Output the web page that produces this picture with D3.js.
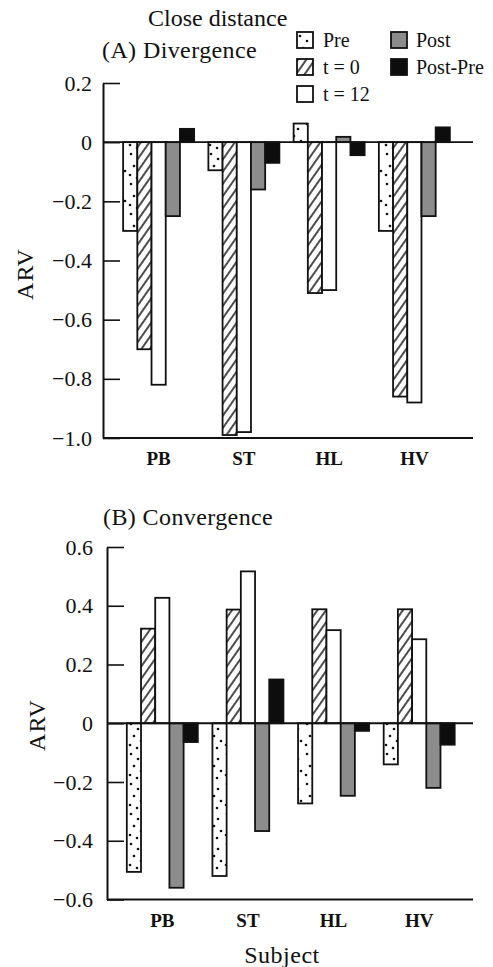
<!DOCTYPE html>
<html>
<head>
<meta charset="utf-8">
<script src="https://cdn.jsdelivr.net/npm/d3@7"></script>
<style>
  html, body { margin: 0; padding: 0; background: #fff; }
  svg { display: block; }
  text { font-family: "Liberation Serif", "Times New Roman", serif; fill: #111; }
</style>
</head>
<body>
<svg id="chart" width="493" height="967"></svg>
<script>
// Subjects and measurement series
const subjects = ["PB", "ST", "HL", "HV"];
const series = ["Pre", "t = 0", "t = 12", "Post", "Post-Pre"];

// (A) Divergence ARV values, one per subject
const divPre     = [-0.30, -0.095, 0.063, -0.30];
const divT0      = [-0.70, -0.99, -0.51, -0.86];
const divT12     = [-0.82, -0.98, -0.50, -0.88];
const divPost    = [-0.25, -0.16, 0.018, -0.25];
const divPostPre = [0.045, -0.07, -0.044, 0.05];

// (B) Convergence ARV values, one per subject
const conPre     = [-0.506, -0.52, -0.273, -0.14];
const conT0      = [0.322, 0.387, 0.388, 0.388];
const conT12     = [0.427, 0.517, 0.317, 0.286];
const conPost    = [-0.56, -0.367, -0.247, -0.22];
const conPostPre = [-0.064, 0.149, -0.026, -0.073];

// Axis ticks
const ticksA = [0.2, 0, -0.2, -0.4, -0.6, -0.8, -1.0];
const tickLabelsA = ["0.2", "0", "\u22120.2", "\u22120.4", "\u22120.6", "\u22120.8", "\u22121.0"];
const ticksB = [0.6, 0.4, 0.2, 0, -0.2, -0.4, -0.6];
const tickLabelsB = ["0.6", "0.4", "0.2", "0", "\u22120.2", "\u22120.4", "\u22120.6"];

const svg = d3.select("#chart");
const defs = svg.append("defs");

// Sparse dot texture for "Pre"
const dots = defs.append("pattern").attr("id", "pat-dots")
  .attr("patternUnits", "userSpaceOnUse").attr("width", 16).attr("height", 30);
dots.append("rect").attr("width", 16).attr("height", 30).attr("fill", "#fff");
[[3, 4], [10, 9], [6, 16], [13, 21], [2, 25], [9, 28]].forEach(([cx, cy]) =>
  dots.append("circle").attr("cx", cx).attr("cy", cy).attr("r", 1.3).attr("fill", "#111"));

// Diagonal hatch for "t = 0"
const hatch = defs.append("pattern").attr("id", "pat-hatch")
  .attr("patternUnits", "userSpaceOnUse").attr("width", 7).attr("height", 7)
  .attr("patternTransform", "rotate(35)");
hatch.append("rect").attr("width", 7).attr("height", 7).attr("fill", "#fff");
hatch.append("line").attr("x1", 1).attr("y1", 0).attr("x2", 1).attr("y2", 7)
  .attr("stroke", "#111").attr("stroke-width", 1.5);

const fills = {
  "Pre": "url(#pat-dots)",
  "t = 0": "url(#pat-hatch)",
  "t = 12": "#fff",
  "Post": "#8c8c8c",
  "Post-Pre": "#0d0d0d"
};

function drawPanel(cfg) {
  const g = svg.append("g");
  const y = d3.scaleLinear().domain(cfg.domain).range([cfg.yBottom, cfg.yTop]);
  const x0 = d3.scaleBand().domain(subjects).range(cfg.xRange).padding(0);
  const groupW = 71;
  const x1 = d3.scaleBand().domain(series)
    .range([(x0.step() - groupW) / 2, (x0.step() + groupW) / 2]).padding(0);

  // Left axis with inward ticks
  const axis = d3.axisLeft(y).tickValues(cfg.ticks)
    .tickFormat((d, i) => cfg.tickLabels[i])
    .tickSizeInner(-17).tickSizeOuter(0).tickPadding(cfg.pad);
  const ag = g.append("g").attr("transform", `translate(${cfg.xAxis},0)`).call(axis);
  ag.select(".domain").attr("stroke", "#111").attr("stroke-width", 2);
  ag.selectAll(".tick line").attr("stroke", "#111").attr("stroke-width", 1.6);
  ag.selectAll(".tick text").attr("font-size", 22)
    .style("font-family", "'Liberation Serif', 'Times New Roman', serif").attr("fill", "#111");

  // Baseline (bottom)
  g.append("line").attr("x1", cfg.xAxis).attr("x2", 473)
    .attr("y1", y(cfg.domain[0])).attr("y2", y(cfg.domain[0]))
    .attr("stroke", "#111").attr("stroke-width", 2);

  // Bars
  const rows = [];
  subjects.forEach((s, i) => {
    cfg.values.forEach((arr, k) => rows.push({ s, key: series[k], v: arr[i] }));
  });
  g.append("g").selectAll("rect").data(rows).join("rect")
    .attr("x", d => x0(d.s) + x1(d.key))
    .attr("width", x1.bandwidth())
    .attr("y", d => y(Math.max(0, d.v)))
    .attr("height", d => Math.abs(y(d.v) - y(0)))
    .attr("fill", d => fills[d.key])
    .attr("stroke", "#111").attr("stroke-width", 1.8);

  // Zero line
  g.append("line").attr("x1", cfg.xAxis).attr("x2", 473)
    .attr("y1", y(0)).attr("y2", y(0))
    .attr("stroke", "#111").attr("stroke-width", 1.8);

  // Category labels
  g.append("g").selectAll("text").data(subjects).join("text")
    .attr("x", d => x0(d) + x0.step() / 2)
    .attr("y", cfg.catY)
    .attr("text-anchor", "middle").attr("font-size", 19).attr("font-weight", "bold")
    .text(d => d);

  // Y title
  g.append("text")
    .attr("transform", `translate(${cfg.arvX},${cfg.arvY}) rotate(-90)`)
    .attr("text-anchor", "middle").attr("dominant-baseline", "central")
    .attr("font-size", 24).attr("letter-spacing", 1)
    .text("ARV");

  // Panel title
  g.append("text").attr("x", cfg.titleX).attr("y", cfg.titleY)
    .attr("font-size", 24).attr("letter-spacing", 0.4)
    .text(cfg.title);
}

drawPanel({
  domain: [-1.0, 0.2], yTop: 83, yBottom: 438,
  xAxis: 103, xRange: [116, 457], pad: 11,
  ticks: ticksA, tickLabels: tickLabelsA,
  values: [divPre, divT0, divT12, divPost, divPostPre],
  catY: 465, arvX: 25, arvY: 274,
  title: "(A) Divergence", titleX: 102, titleY: 58
});

drawPanel({
  domain: [-0.6, 0.6], yTop: 547, yBottom: 899.5,
  xAxis: 107, xRange: [119.5, 462], pad: 14,
  ticks: ticksB, tickLabels: tickLabelsB,
  values: [conPre, conT0, conT12, conPost, conPostPre],
  catY: 927, arvX: 37, arvY: 725,
  title: "(B) Convergence", titleX: 103, titleY: 525
});

// Heading
svg.append("text").attr("x", 148).attr("y", 26)
  .attr("font-size", 24)
  .text("Close distance");

// X title
svg.append("text").attr("x", 282).attr("y", 963)
  .attr("text-anchor", "middle").attr("font-size", 24).attr("letter-spacing", 0.5)
  .text("Subject");

// Legend
const legendItems = [
  { key: "Pre", col: 0, row: 0 },
  { key: "t = 0", col: 0, row: 1 },
  { key: "t = 12", col: 0, row: 2 },
  { key: "Post", col: 1, row: 0 },
  { key: "Post-Pre", col: 1, row: 1 }
];
const legend = svg.append("g");
const colX = [297, 391];
const lg = legend.selectAll("g").data(legendItems).join("g")
  .attr("transform", d => `translate(${colX[d.col]},${32 + d.row * 27})`);
lg.append("rect").attr("width", 16).attr("height", 16)
  .attr("fill", d => fills[d.key]).attr("stroke", "#111").attr("stroke-width", 1.8);
lg.append("text").attr("x", d => d.col === 0 ? 26 : 25).attr("y", 15)
  .attr("font-size", 20).text(d => d.key);
</script>
</body>
</html>
